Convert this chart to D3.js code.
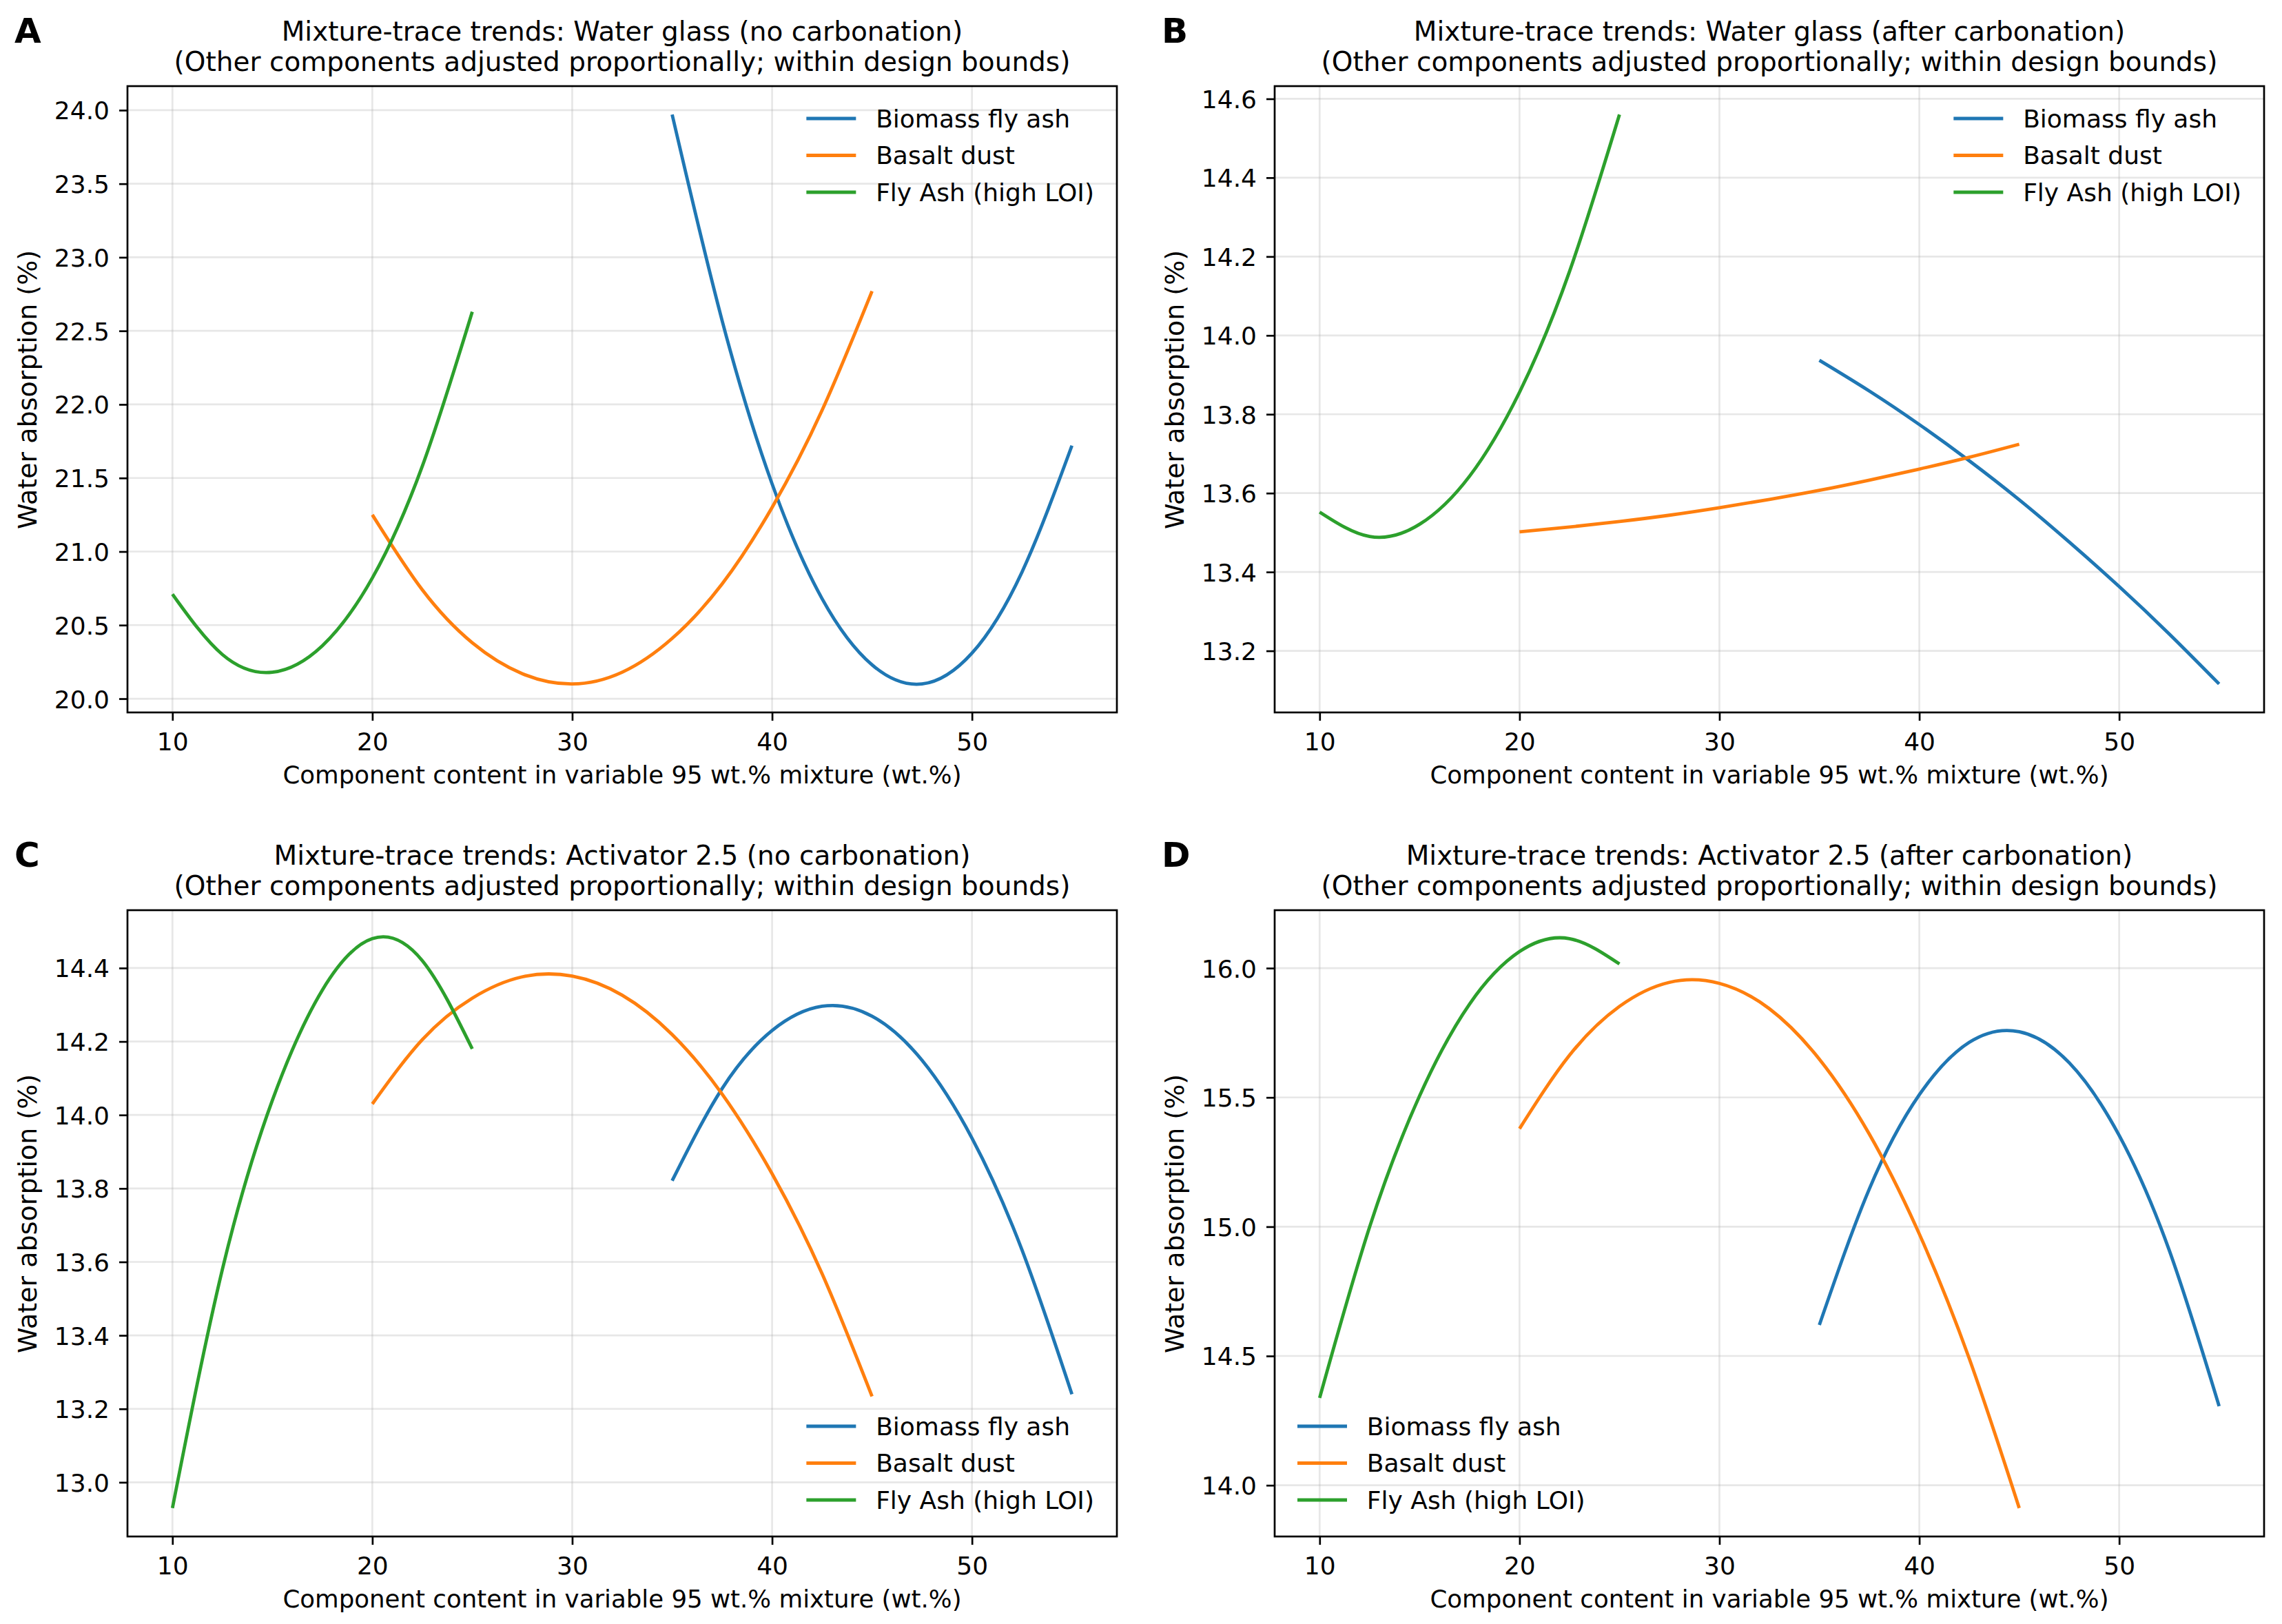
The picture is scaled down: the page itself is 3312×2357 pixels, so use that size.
<!DOCTYPE html>
<html>
<head>
<meta charset="utf-8">
<script src="https://cdn.jsdelivr.net/npm/d3@7"></script>
<style>
  body { margin: 0; background: #fff; }
  text { font-family: "DejaVu Sans", sans-serif; fill: #000; }
</style>
</head>
<body>
<div id="chart"></div>
<script>
// ---- data ----
var seriesNames = ["Biomass fly ash", "Basalt dust", "Fly Ash (high LOI)"];
var seriesColors = ["#1f77b4", "#ff7f0e", "#2ca02c"];

var biomassX = [35, 37.5, 40, 42.5, 45, 47.5, 50, 52.5, 55];
var basaltX  = [20, 22.5, 25, 27.5, 30, 32.5, 35, 37.5, 40, 42.5, 45];
var flyAshX  = [10, 12.5, 15, 17.5, 20, 22.5, 25];
var xTicks = [10, 20, 30, 40, 50];

// A: water glass, no carbonation
var wgNoBiomass = [23.97, 22.57, 21.46, 20.68, 20.23, 20.10, 20.31, 20.86, 21.72];
var wgNoBasalt  = [21.25, 20.74, 20.38, 20.17, 20.10, 20.18, 20.41, 20.78, 21.30, 21.96, 22.77];
var wgNoFlyAsh  = [20.71, 20.30, 20.18, 20.36, 20.82, 21.58, 22.63];
var yTicksA = [20.0, 20.5, 21.0, 21.5, 22.0, 22.5, 23.0, 23.5, 24.0];

// B: water glass, after carbonation
var wgCarbBiomass = [13.937, 13.859, 13.774, 13.682, 13.583, 13.476, 13.363, 13.243, 13.116];
var wgCarbBasalt  = [13.502, 13.514, 13.528, 13.544, 13.563, 13.584, 13.607, 13.633, 13.661, 13.691, 13.724];
var wgCarbFlyAsh  = [13.552, 13.490, 13.521, 13.643, 13.856, 14.162, 14.560];
var yTicksB = [13.2, 13.4, 13.6, 13.8, 14.0, 14.2, 14.4, 14.6];

// C: activator 2.5, no carbonation
var actNoBiomass = [13.821, 14.072, 14.230, 14.296, 14.269, 14.149, 13.937, 13.633, 13.240];
var actNoBasalt  = [14.030, 14.205, 14.318, 14.376, 14.378, 14.326, 14.219, 14.057, 13.840, 13.568, 13.234];
var actNoFlyAsh  = [12.93, 13.58, 14.04, 14.34, 14.48, 14.42, 14.18];
var yTicksC = [13.0, 13.2, 13.4, 13.6, 13.8, 14.0, 14.2, 14.4];

// D: activator 2.5, after carbonation
var actCarbBiomass = [14.620, 15.146, 15.510, 15.713, 15.754, 15.634, 15.353, 14.910, 14.306];
var actCarbBasalt  = [15.379, 15.663, 15.852, 15.945, 15.941, 15.843, 15.648, 15.358, 14.972, 14.490, 13.912];
var actCarbFlyAsh  = [14.338, 14.999, 15.506, 15.861, 16.064, 16.114, 16.016];
var yTicksD = [14.0, 14.5, 15.0, 15.5, 16.0];

var titlesTop = [
  "Mixture-trace trends: Water glass (no carbonation)",
  "Mixture-trace trends: Water glass (after carbonation)",
  "Mixture-trace trends: Activator 2.5 (no carbonation)",
  "Mixture-trace trends: Activator 2.5 (after carbonation)"
];
var subTitle = "(Other components adjusted proportionally; within design bounds)";
var letters = ["A", "B", "C", "D"];
var xLabel = "Component content in variable 95 wt.% mixture (wt.%)";
var yLabel = "Water absorption (%)";

// ---- layout ----
var width = 3312, height = 2357;
var W = 1436, H = 909;
var fs = 36, titleFs = 39;

var panels = [
  {left: 185,  top: 125,  ys: [wgNoBiomass, wgNoBasalt, wgNoFlyAsh],       yTicks: yTicksA, legend: "upper right"},
  {left: 1850, top: 125,  ys: [wgCarbBiomass, wgCarbBasalt, wgCarbFlyAsh], yTicks: yTicksB, legend: "upper right"},
  {left: 185,  top: 1321, ys: [actNoBiomass, actNoBasalt, actNoFlyAsh],    yTicks: yTicksC, legend: "lower right"},
  {left: 1850, top: 1321, ys: [actCarbBiomass, actCarbBasalt, actCarbFlyAsh], yTicks: yTicksD, legend: "lower left"}
];
var xsList = [biomassX, basaltX, flyAshX];

var svg = d3.select("#chart").append("svg")
  .attr("width", width)
  .attr("height", height);

svg.append("rect").attr("width", width).attr("height", height).attr("fill", "#fff");

// matplotlib-like 5% margins
function padded(ext) {
  var m = (ext[1] - ext[0]) * 0.05;
  return [ext[0] - m, ext[1] + m];
}

var xDomain = padded(d3.extent(d3.merge(xsList)));

panels.forEach(function(p, i) {
  var g = svg.append("g").attr("transform", "translate(" + p.left + "," + p.top + ")");

  var x = d3.scaleLinear().domain(xDomain).range([0, W]);
  var y = d3.scaleLinear().domain(padded(d3.extent(d3.merge(p.ys)))).range([H, 0]);

  // grid
  g.append("g").selectAll("line").data(xTicks).enter().append("line")
    .attr("x1", function(d) { return x(d); }).attr("x2", function(d) { return x(d); })
    .attr("y1", 0).attr("y2", H)
    .attr("stroke", "#b0b0b0").attr("stroke-opacity", 0.3).attr("stroke-width", 2.7);
  g.append("g").selectAll("line").data(p.yTicks).enter().append("line")
    .attr("y1", function(d) { return y(d); }).attr("y2", function(d) { return y(d); })
    .attr("x1", 0).attr("x2", W)
    .attr("stroke", "#b0b0b0").attr("stroke-opacity", 0.3).attr("stroke-width", 2.7);

  // curves
  var line = d3.line()
    .x(function(d) { return x(d[0]); })
    .y(function(d) { return y(d[1]); })
    .curve(d3.curveNatural);

  p.ys.forEach(function(vals, k) {
    var pts = xsList[k].map(function(xv, j) { return [xv, vals[j]]; });
    g.append("path")
      .attr("d", line(pts))
      .attr("fill", "none")
      .attr("stroke", seriesColors[k])
      .attr("stroke-width", 4.8);
  });

  // axes
  var xAxis = g.append("g").attr("transform", "translate(0," + H + ")")
    .call(d3.axisBottom(x).tickValues(xTicks).tickSize(12).tickPadding(17).tickFormat(d3.format("d")));
  var yAxis = g.append("g")
    .call(d3.axisLeft(y).tickValues(p.yTicks).tickSize(12).tickPadding(14).tickFormat(d3.format(".1f")));
  [xAxis, yAxis].forEach(function(a) {
    a.select(".domain").remove();
    a.selectAll(".tick line").attr("stroke", "#000").attr("stroke-width", 2.7);
    a.selectAll(".tick text").attr("font-size", fs).attr("font-family", "DejaVu Sans").attr("fill", "#000");
  });
  yAxis.selectAll(".tick text").attr("dy", "0.36em");

  // frame
  g.append("rect").attr("width", W).attr("height", H)
    .attr("fill", "none").attr("stroke", "#000").attr("stroke-width", 2.7);

  // labels
  g.append("text").attr("x", W / 2).attr("y", H + 103)
    .attr("text-anchor", "middle").attr("font-size", 35.6).text(xLabel);
  g.append("text").attr("transform", "translate(-132," + (H / 2 - 14) + ") rotate(-90)")
    .attr("text-anchor", "middle").attr("font-size", 38).text(yLabel);

  // titles
  g.append("text").attr("x", W / 2).attr("y", -66)
    .attr("text-anchor", "middle").attr("font-size", titleFs).text(titlesTop[i]);
  g.append("text").attr("x", W / 2).attr("y", -22)
    .attr("text-anchor", "middle").attr("font-size", titleFs).text(subTitle);

  // panel letter
  g.append("text").attr("x", -164).attr("y", -63)
    .attr("font-size", 50).attr("font-weight", "bold").text(letters[i]);

  // legend (no frame)
  var lg = g.append("g");
  var rowsY = p.legend.indexOf("upper") === 0 ? [47, 100.5, 154] : [H - 160, H - 106.5, H - 53];
  var texts = seriesNames.map(function(name, k) {
    return lg.append("text").attr("y", rowsY[k]).attr("dy", "0.36em")
      .attr("font-size", fs).text(name);
  });
  var maxW = d3.max(texts, function(t) { return t.node().getComputedTextLength(); });
  var hLen = 2 * fs, hPad = 0.8 * fs, edge = 33;
  var textStart = p.legend.indexOf("right") > 0 ? W - edge - maxW : edge + hLen + hPad;
  texts.forEach(function(t, k) {
    t.attr("x", textStart);
    lg.append("line")
      .attr("x1", textStart - hPad - hLen).attr("x2", textStart - hPad)
      .attr("y1", rowsY[k]).attr("y2", rowsY[k])
      .attr("stroke", seriesColors[k]).attr("stroke-width", 4.8);
  });
});
</script>
</body>
</html>
